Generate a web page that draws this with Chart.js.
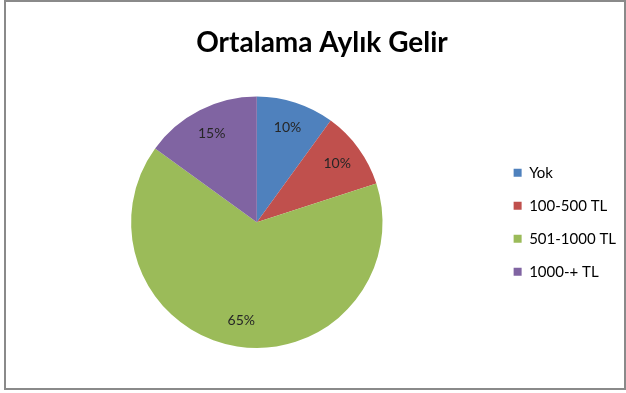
<!DOCTYPE html>
<html>
<head>
<meta charset="utf-8">
<script src="https://cdn.jsdelivr.net/npm/chart.js@4"></script>
<style>
    body { margin: 0; background: #fff; }
    #wrap { position: absolute; left: 0; top: 0; width: 626px; height: 393px; }
    #frame { position: absolute; left: 4px; top: 0; width: 618px; height: 386px; border: 2px solid #8a8a8a; pointer-events: none; }
</style>
</head>
<body>
<div id="wrap"><canvas id="incomeChart"></canvas></div>
<div id="frame"></div>
<script>
// chart data
const chartTitle = "Ortalama Aylık Gelir";
const categories = ["Yok", "100-500 TL", "501-1000 TL", "1000-+ TL"];
const shares = [10, 10, 65, 15];
const sliceColors = ["#4F81BD", "#C0504D", "#9BBB59", "#8064A2"];

// percent labels inside the slices
const percentLabels = {
    id: "percentLabels",
    afterDatasetsDraw(chart) {
        const ctx = chart.ctx;
        const total = shares.reduce((a, b) => a + b, 0);
        ctx.save();
        ctx.font = "14px Lato";
        ctx.fillStyle = "#262626";
        ctx.textAlign = "center";
        ctx.textBaseline = "middle";
        chart.getDatasetMeta(0).data.forEach((arc, i) => {
            const mid = (arc.startAngle + arc.endAngle) / 2;
            const r = arc.outerRadius * 0.79;
            const x = arc.x + Math.cos(mid) * r;
            const y = arc.y + Math.sin(mid) * r;
            ctx.fillText(Math.round(shares[i] / total * 100) + "%", x, y);
        });
        ctx.restore();
    }
};

new Chart(document.getElementById("incomeChart"), {
    type: "pie",
    data: {
        labels: categories,
        datasets: [{
            data: shares,
            backgroundColor: sliceColors,
            borderWidth: 0
        }]
    },
    options: {
        responsive: true,
        maintainAspectRatio: false,
        animation: false,
        layout: {
            padding: { top: 0, bottom: 45, left: 18, right: 0 }
        },
        plugins: {
            title: {
                display: true,
                text: chartTitle,
                color: "#000",
                font: { family: "Lato", size: 28, weight: "bold" },
                padding: { top: 26, bottom: 37 }
            },
            legend: {
                position: "right",
                fullSize: false,
                labels: {
                    boxWidth: 8,
                    boxHeight: 8,
                    padding: 18,
                    color: "#000",
                    font: { family: "Lato", size: 15 }
                }
            },
            tooltip: { enabled: false }
        }
    },
    plugins: [percentLabels]
});
</script>
</body>
</html>
